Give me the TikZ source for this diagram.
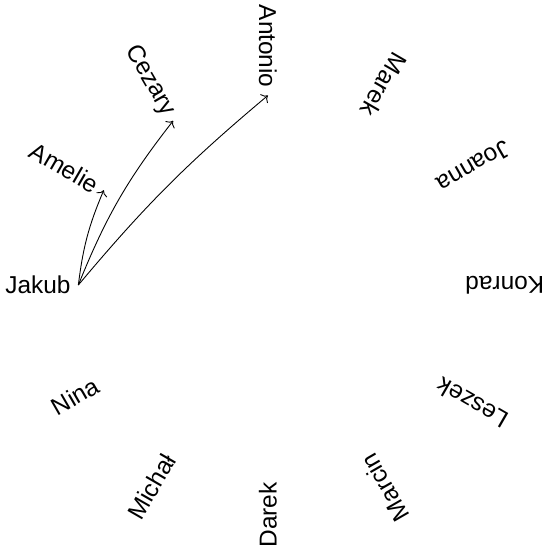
\documentclass[tikz,border=0pt]{standalone}
\usepackage{fontspec}
\setmainfont{Liberation Sans}
\usetikzlibrary{arrows.meta}
\tikzset{
  person/.style = {anchor=east, inner sep=3.33pt, font=\fontsize{11}{13}\selectfont},
  link/.style   = {->, line width=0.4pt},
}
\begin{document}
\begin{tikzpicture}
  \useasboundingbox (-4.24,-4.13) rectangle (4.37,4.51);

  \node[person, rotate=0]    (jakub)   at (180:3)  {Jakub};
  \node[person, rotate=-30]  (amelie)  at (150:3)  {Amelie};
  \node[person, rotate=-60]  (cezary)  at (120:3)  {Cezary};
  \node[person, rotate=-90]  (antonio) at (90:3)   {Antonio};
  \node[person, rotate=-120] (marek)   at (60:3)   {Marek};
  \node[person, rotate=-150] (joanna)  at (30:3)   {Joanna};
  \node[person, rotate=180]  (konrad)  at (0:3)    {Konrad};
  \node[person, rotate=150]  (leszek)  at (-30:3)  {Leszek};
  \node[person, rotate=120]  (marcin)  at (-60:3)  {Marcin};
  \node[person, rotate=90]   (darek)   at (-90:3)  {Darek};
  \node[person, rotate=60]   (michal)  at (-120:3) {Michał};
  \node[person, rotate=30]   (nina)    at (-150:3) {Nina};

  \draw[link] (jakub.east) to[bend left=8] (amelie.east);
  \draw[link] (jakub.east) to[bend left=8] (cezary.east);
  \draw[link] (jakub.east) to[bend left=5] (antonio.east);
\end{tikzpicture}
\end{document}
